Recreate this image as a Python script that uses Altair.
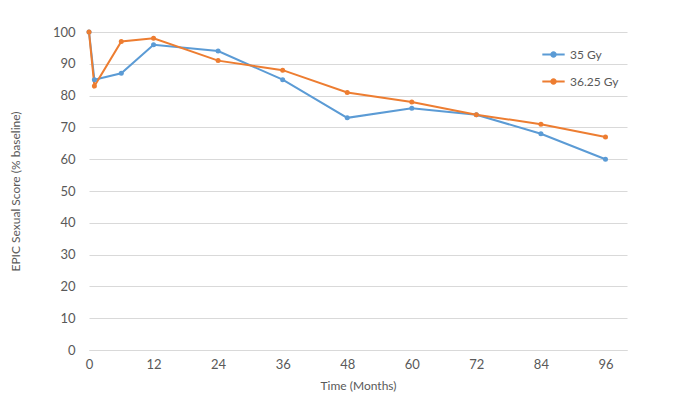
import altair as alt
import pandas as pd

months = [0, 1, 6, 12, 24, 36, 48, 60, 72, 84, 96]
gy35 = [100, 85, 87, 96, 94, 85, 73, 76, 74, 68, 60]
gy3625 = [100, 83, 97, 98, 91, 88, 81, 78, 74, 71, 67]
series = ["35 Gy", "36.25 Gy"]
colors = ["#5B9BD5", "#ED7D31"]

rows = []
for m, a, b in zip(months, gy35, gy3625):
    rows.append({"Month": m, "Score": a, "Series": series[0]})
    rows.append({"Month": m, "Score": b, "Series": series[1]})
df = pd.DataFrame(rows)

font = "Lato"
grey = "#595959"

sym = "M-1,0L-0.2,0M0.2,0L1,0M-0.2,0A0.2,0.2 0 1,1 0.2,0A0.2,0.2 0 1,1 -0.2,0Z"

x = alt.X("Month:Q", title="Time (Months)",
          scale=alt.Scale(domain=[0, 100], nice=False, zero=True),
          axis=alt.Axis(values=[0, 12, 24, 36, 48, 60, 72, 84, 96], grid=False,
                        ticks=False, domainColor="#D9D9D9", labelPadding=8,
                        labelFlush=False, titlePadding=9))
y = alt.Y("Score:Q", title="EPIC Sexual Score (% baseline)",
          scale=alt.Scale(domain=[0, 100], nice=False),
          axis=alt.Axis(values=list(range(0, 101, 10)), grid=True, gridColor="#D9D9D9",
                        domain=False, ticks=False, labelPadding=14, titlePadding=30,
                        labelFlush=False))
color = alt.Color("Series:N", scale=alt.Scale(domain=series, range=colors),
                  legend=alt.Legend(title=None, orient="none", legendX=452, legendY=10,
                                    symbolType=sym, symbolSize=500, symbolStrokeWidth=2,
                                    labelFont=font, labelFontSize=12, labelColor=grey,
                                    rowPadding=8, labelOffset=4))

base = alt.Chart(df).encode(x=x, y=y, color=color, order=alt.Order("Month:Q"))
lines = base.mark_line(strokeWidth=2)
pts = base.mark_point(filled=True, size=25, opacity=1)

chart = alt.layer(lines, pts).properties(
    width=538, height=318,
    autosize=alt.AutoSizeParams(type="none"),
    padding={"left": 81, "top": 24, "right": 40, "bottom": 50},
).configure_view(stroke=None).configure_axis(
    labelFont=font, labelFontSize=13, labelColor=grey,
    titleFont=font, titleFontSize=12, titleColor=grey, titleFontWeight="normal"
)

chart.save("out.html", embed_options={"renderer": "svg", "actions": False})
